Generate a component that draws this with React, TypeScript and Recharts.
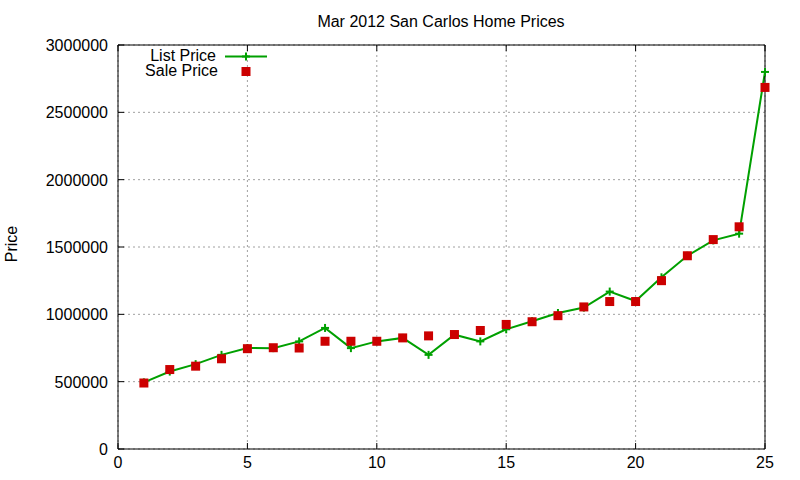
import React from "react";
import {
  ComposedChart, Line, XAxis, YAxis, CartesianGrid,
} from "recharts";

const homes = [1, 2, 3, 4, 5, 6, 7, 8, 9, 10, 11, 12, 13, 14, 15, 16, 17, 18, 19, 20, 21, 22, 23, 24, 25];
const listPrice = [
  495000, 575000, 630000, 699000, 750000, 749000, 799000, 899000, 749000, 799000,
  825000, 699000, 849000, 799000, 889000, 949000, 1010000, 1050000, 1169000, 1099000,
  1275000, 1435000, 1549000, 1599000, 2800000,
];
const salePrice = [
  490000, 590000, 615000, 670000, 745000, 752000, 750000, 800000, 800000, 800000,
  825000, 840000, 850000, 880000, 925000, 945000, 990000, 1055000, 1095000, 1095000,
  1250000, 1435000, 1555000, 1650000, 2685000,
];
const xTicks = [0, 5, 10, 15, 20, 25];
const yTicks = [0, 500000, 1000000, 1500000, 2000000, 2500000, 3000000];

const GREEN = "#00a000";
const RED = "#cc0000";
const FONT = "'Liberation Sans', Arial, sans-serif";

const data = homes.map((h, i) => ({ home: h, list: listPrice[i], sale: salePrice[i] }));

// gnuplot style: ticks point into the plot, labels outside
const BottomTick = (p: any) => (
  <g>
    <line x1={p.x} y1={p.y} x2={p.x} y2={p.y - 6} stroke="#000" />
    <text x={p.x} y={p.y + 19} textAnchor="middle" fontSize={16} fontFamily={FONT} fill="#000">
      {p.payload.value}
    </text>
  </g>
);
const TopTick = (p: any) => <line x1={p.x} y1={p.y} x2={p.x} y2={p.y + 6} stroke="#000" />;
const LeftTick = (p: any) => (
  <g>
    <line x1={p.x} y1={p.y} x2={p.x + 6} y2={p.y} stroke="#000" />
    <text x={p.x - 10} y={p.y + 6} textAnchor="end" fontSize={16} fontFamily={FONT} fill="#000">
      {p.payload.value}
    </text>
  </g>
);
const RightTick = (p: any) => <line x1={p.x} y1={p.y} x2={p.x - 6} y2={p.y} stroke="#000" />;

const PlusDot = (p: any) => {
  const { cx, cy } = p;
  if (cx == null || cy == null) return <g />;
  return (
    <g>
      <line x1={cx - 4} y1={cy} x2={cx + 4} y2={cy} stroke={GREEN} strokeWidth={2} />
      <line x1={cx} y1={cy - 4} x2={cx} y2={cy + 4} stroke={GREEN} strokeWidth={2} />
    </g>
  );
};
const SquareDot = (p: any) => {
  const { cx, cy } = p;
  if (cx == null || cy == null) return <g />;
  return <rect x={cx - 4.5} y={cy - 4.5} width={9} height={9} fill={RED} />;
};

export default function App() {
  return (
    <div style={{ position: "absolute", left: 0, top: 0, width: 800, height: 480, background: "#fff" }}>
      <ComposedChart
        width={800}
        height={480}
        data={data}
        margin={{ top: 35, right: 25, left: 18, bottom: 6 }}
      >
        <CartesianGrid
          xAxisId="b"
          yAxisId="l"
          stroke="#a0a0a0"
          strokeDasharray="2 3"
        />
        <XAxis
          xAxisId="b"
          dataKey="home"
          type="number"
          domain={[0, 25]}
          ticks={xTicks}
          height={25}
          tickSize={0}
          tickMargin={0}
          tick={BottomTick}
          axisLine={{ stroke: "#000" }}
          tickLine={false}
        />
        <XAxis
          xAxisId="t"
          orientation="top"
          dataKey="home"
          type="number"
          domain={[0, 25]}
          ticks={xTicks}
          height={10}
          tickSize={0}
          tickMargin={0}
          tick={TopTick}
          axisLine={{ stroke: "#000" }}
          tickLine={false}
        />
        <YAxis
          yAxisId="l"
          type="number"
          domain={[0, 3000000]}
          ticks={yTicks}
          width={100}
          tickSize={0}
          tickMargin={0}
          tick={LeftTick}
          axisLine={{ stroke: "#000" }}
          tickLine={false}
        />
        <YAxis
          yAxisId="r"
          orientation="right"
          type="number"
          domain={[0, 3000000]}
          ticks={yTicks}
          width={10}
          tickSize={0}
          tickMargin={0}
          tick={RightTick}
          axisLine={{ stroke: "#000" }}
          tickLine={false}
        />
        <Line
          xAxisId="b"
          yAxisId="l"
          dataKey="list"
          stroke={GREEN}
          strokeWidth={2}
          dot={PlusDot}
          activeDot={false}
          isAnimationActive={false}
        />
        <Line
          xAxisId="b"
          yAxisId="l"
          dataKey="sale"
          stroke="none"
          dot={SquareDot}
          activeDot={false}
          isAnimationActive={false}
        />
      </ComposedChart>
      <svg
        width={800}
        height={480}
        style={{ position: "absolute", left: 0, top: 0, pointerEvents: "none" }}
        fontFamily={FONT}
      >
        <text x={441} y={27} textAnchor="middle" fontSize={16} fill="#000">
          Mar 2012 San Carlos Home Prices
        </text>
        <text x={17} y={244} textAnchor="middle" fontSize={16} fill="#000" transform="rotate(-90 17 244)">
          Price
        </text>
        <text x={216} y={61} textAnchor="end" fontSize={16} fill="#000">List Price</text>
        <line x1={225} y1={56.5} x2={267} y2={56.5} stroke={GREEN} strokeWidth={2} />
        <line x1={246} y1={52.5} x2={246} y2={60.5} stroke={GREEN} strokeWidth={2} />
        <line x1={242} y1={56.5} x2={250} y2={56.5} stroke={GREEN} strokeWidth={2} />
        <text x={218} y={76} textAnchor="end" fontSize={16} fill="#000">Sale Price</text>
        <rect x={241.5} y={67} width={9} height={9} fill={RED} />
      </svg>
    </div>
  );
}
